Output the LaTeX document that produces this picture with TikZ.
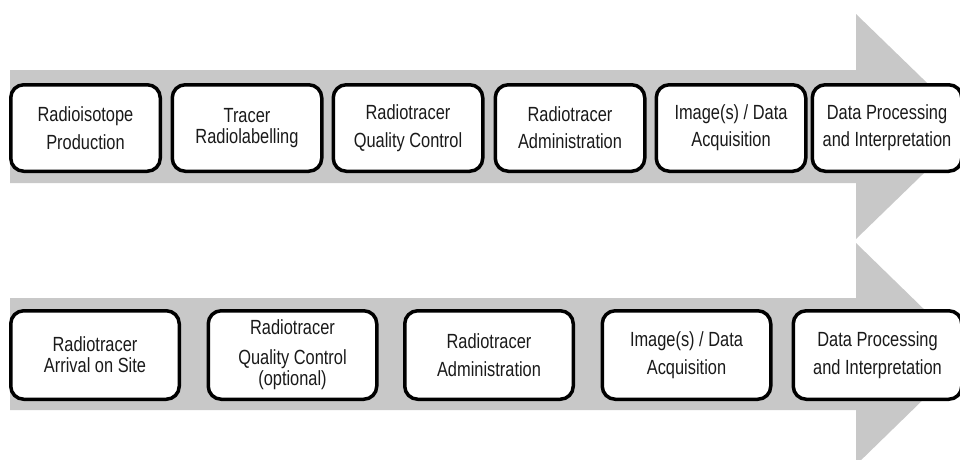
\documentclass[tikz,border=0pt]{standalone}
\usepackage{fontspec}
\setmainfont[FakeStretch=0.80]{Liberation Sans}
\definecolor{arrowgrey}{HTML}{C8C8C8}
\definecolor{txt}{HTML}{1A1A1A}
\begin{document}
\begin{tikzpicture}[x=1pt,y=-1pt,
  stagebox/.style={draw=black, line width=3.5pt, fill=white, rounded corners=13pt,
    rectangle, align=center, text=txt, inner sep=0pt,
    font=\fontsize{20.5}{21}\selectfont},
  topbox/.style={stagebox, minimum width=149.5pt, minimum height=86.5pt},
  botbox/.style={stagebox, minimum width=168.5pt, minimum height=88.5pt},
  bigarrow/.style={fill=arrowgrey, draw=none}]
\useasboundingbox (0,0) rectangle (960,459);
\clip (0,0) rectangle (960,459);
% top arrow
\fill[bigarrow] (10,70) -- (856,70) -- (856,14) -- (972,126.5) -- (856,239) -- (856,183) -- (10,183) -- cycle;
% bottom arrow
\fill[bigarrow] (10,298) -- (856,298) -- (856,243) -- (970,354) -- (856,465) -- (856,410) -- (10,410) -- cycle;
% top row
\node[topbox] (t1) at (85.5,128) {Radioisotope\\[7pt]Production};
\node[topbox] (t2) at (247,128) {Tracer\\Radiolabelling};
\node[topbox] (t3) at (408,128) {Radiotracer\\[7pt]Quality Control};
\node[topbox] (t4) at (570,128) {Radiotracer\\[6pt]Administration};
\node[topbox] (t5) at (731,128) {Image(s) / Data\\[6pt]Acquisition};
\node[topbox] (t6) at (887,128) {Data Processing\\[6pt]and Interpretation};
% bottom row
\node[botbox] (b1) at (95,355) {Radiotracer\\Arrival on Site};
\node[botbox] (b2) at (292.5,355) {Radiotracer\\[9pt]Quality Control\\(optional)};
\node[botbox] (b3) at (489,355) {Radiotracer\\[7pt]Administration};
\node[botbox] (b4) at (686.5,355) {Image(s) / Data\\[7pt]Acquisition};
\node[botbox] (b5) at (877.5,355) {Data Processing\\[7pt]and Interpretation};
\end{tikzpicture}
\end{document}
